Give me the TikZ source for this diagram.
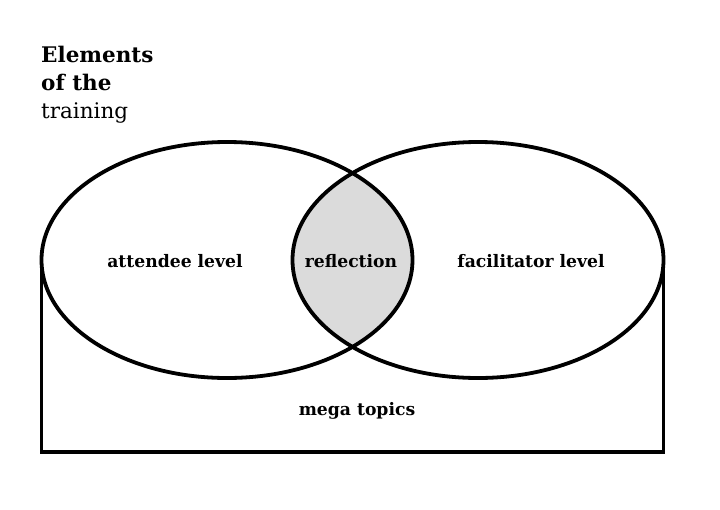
\documentclass[tikz,border=0pt]{standalone}
\usepackage{fontspec}
\setmainfont{DejaVu Serif}
\usetikzlibrary{shapes.geometric}
\begin{document}
\begin{tikzpicture}[x=1pt,y=-1pt]

\tikzset{ring/.style={ellipse,draw,line width=3.8pt,minimum width=371pt,minimum height=236pt,inner sep=0pt,outer sep=0pt}}
\tikzset{lbl/.style={font=\bfseries\fontsize{17.2}{20}\selectfont}}
\tikzset{head/.style={anchor=base west,inner sep=0pt,font=\fontsize{21.5}{25}\selectfont}}

\useasboundingbox (0,0) rectangle (720,509);

\begin{scope}
  \clip (227,260) ellipse [x radius=185.5,y radius=118];
  \fill[black!14] (478,260) ellipse [x radius=185.5,y radius=118];
\end{scope}

\node[ring] (attendee) at (227,260) {};
\node[ring] (facilitator) at (478,260) {};
\coordinate (floor) at (0,452);
\draw[line width=3.6pt] (attendee.west) -- (attendee.west |- floor)
  -- (facilitator.east |- floor) -- (facilitator.east);

\node[lbl] (att) at (175,261) {attendee level};
\node[lbl] (refl) at (351,261) {reflection};
\node[lbl] (fac) at (531,261) {facilitator level};
\node[lbl] (mega) at (357,411) {mega topics};

\node[head,font=\bfseries\fontsize{21.5}{25}\selectfont] (elem) at (41,62) {Elements};
\node[head,font=\bfseries\fontsize{21.5}{25}\selectfont] (ofthe) at (41,90) {of the};
\node[head] (train) at (41,118) {training};

\end{tikzpicture}
\end{document}
